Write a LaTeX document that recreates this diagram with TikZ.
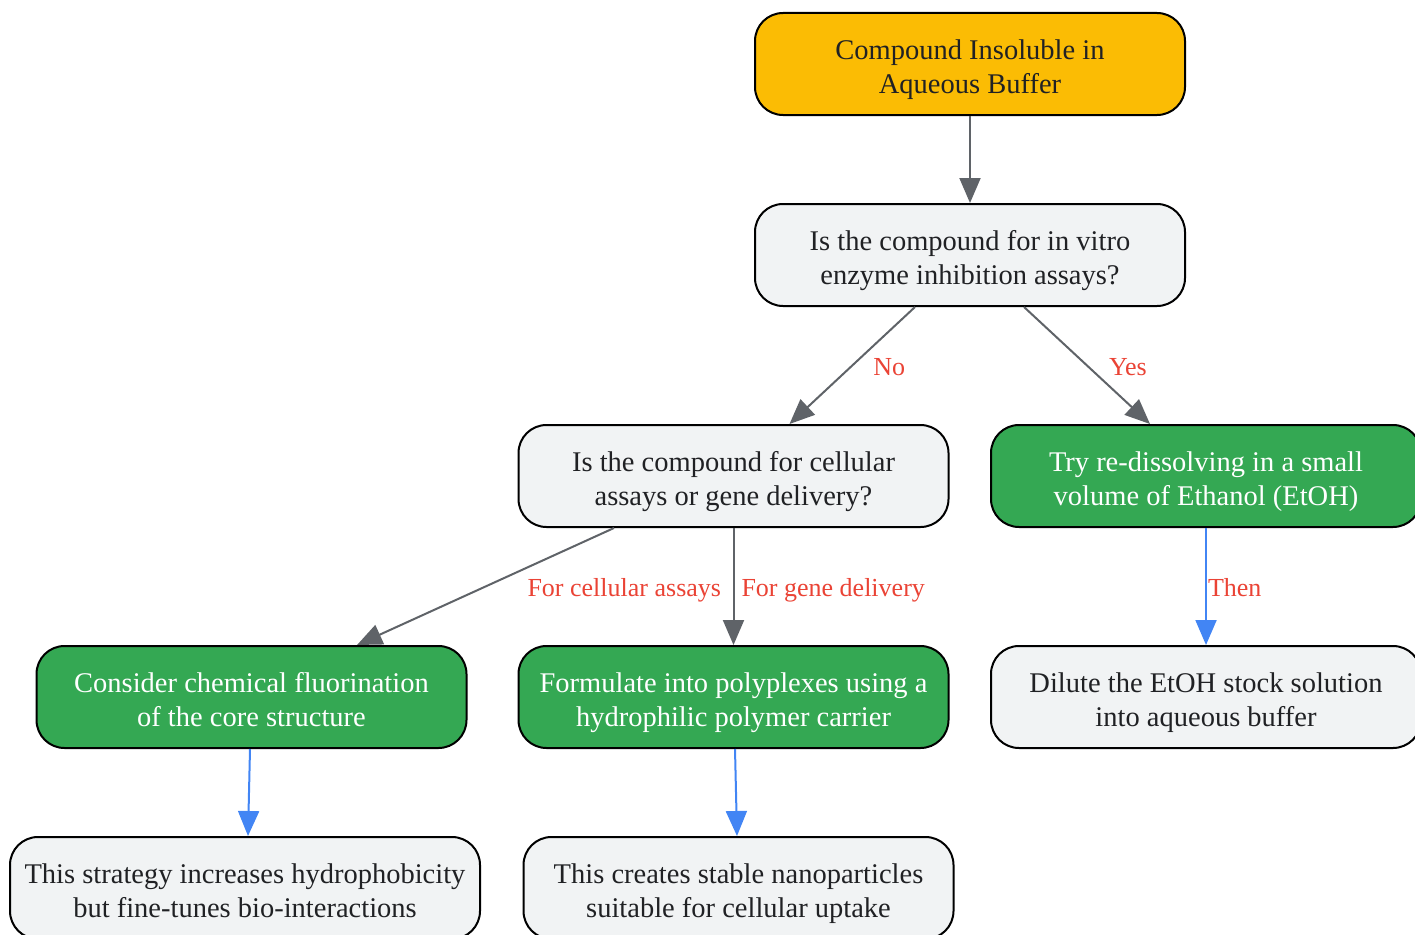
\documentclass[tikz,border=0pt]{standalone}
\usepackage{fontspec}
\setmainfont{Liberation Serif}
\usetikzlibrary{arrows.meta}
\definecolor{orangefill}{HTML}{FBBC04}
\definecolor{greenfill}{HTML}{34A853}
\definecolor{greyfill}{HTML}{F1F3F4}
\definecolor{edgegrey}{HTML}{5F6368}
\definecolor{edgeblue}{HTML}{4285F4}
\definecolor{labelred}{HTML}{EA4335}
\definecolor{textdark}{HTML}{202124}
\newcommand\topstrut{\rule{0pt}{32pt}}
\newcommand\botstrut{\rule[-8pt]{0pt}{8pt}}
\tikzset{
  box/.style={draw=black, line width=2pt, rounded corners=28pt, minimum width=430pt,
    minimum height=102pt, inner sep=0pt, align=center,
    font=\fontsize{28.5}{34}\selectfont},
  startbox/.style={box, fill=orangefill, text=textdark},
  qbox/.style={box, fill=greyfill, text=textdark},
  actbox/.style={box, fill=greenfill, text=white},
  flowgrey/.style={draw=edgegrey, line width=2pt, -{Triangle[length=25pt,width=21pt]}},
  flowblue/.style={draw=edgeblue, line width=2pt, -{Triangle[length=25pt,width=21pt]}},
  lbl/.style={text=labelred, font=\fontsize{26}{30}\selectfont, inner sep=0pt, anchor=west}
}
\begin{document}
\begin{tikzpicture}[x=1pt, y=-1pt]
\useasboundingbox (0,0) rectangle (1415,934);
\clip (0,0) rectangle (1415,934);
\node[startbox] (start) at (970,64) {\topstrut Compound Insoluble in\\Aqueous Buffer\botstrut};
\node[qbox] (q1) at (970,255) {\topstrut Is the compound for in vitro\\enzyme inhibition assays?\botstrut};
\node[qbox] (q2) at (733.5,476) {\topstrut Is the compound for cellular\\assays or gene delivery?\botstrut};
\node[actbox] (etoh) at (1206,476) {\topstrut Try re-dissolving in a small\\volume of Ethanol (EtOH)\botstrut};
\node[actbox] (fluor) at (251.5,697) {\topstrut Consider chemical fluorination\\of the core structure\botstrut};
\node[actbox] (poly) at (733.5,697) {\topstrut Formulate into polyplexes using a\\hydrophilic polymer carrier\botstrut};
\node[qbox] (dilute) at (1206,697) {\topstrut Dilute the EtOH stock solution\\into aqueous buffer\botstrut};
\node[qbox, minimum width=470pt] (strat) at (245,888) {\topstrut This strategy increases hydrophobicity\\but fine-tunes bio-interactions\botstrut};
\node[qbox] (nano) at (738.5,888) {\topstrut This creates stable nanoparticles\\suitable for cellular uptake\botstrut};

\draw[flowgrey] (start.south) -- (q1.north);
\draw[flowgrey] ([xshift=-55pt]q1.south) -- node[lbl, pos=0.5, xshift=20pt, yshift=-2pt] {No} ([xshift=56pt]q2.north);
\draw[flowgrey] ([xshift=54pt]q1.south) -- node[lbl, pos=0.5, xshift=21pt, yshift=-2pt] {Yes} ([xshift=-56pt]etoh.north);
\draw[flowgrey] ([xshift=-119.5pt]q2.south) -- node[lbl, pos=0.5, xshift=41pt, yshift=-4pt] {For cellular assays} ([xshift=105.5pt]fluor.north);
\draw[flowgrey] (q2.south) -- node[lbl, pos=0.5, xshift=7pt, yshift=-4pt] {For gene delivery} (poly.north);
\draw[flowblue] (etoh.south) -- node[lbl, pos=0.5, xshift=1pt, yshift=-1pt] {Then} (dilute.north);
\draw[flowblue] ([xshift=-1.5pt]fluor.south) -- ([xshift=3pt]strat.north);
\draw[flowblue] ([xshift=1.5pt]poly.south) -- ([xshift=-1.5pt]nano.north);
\end{tikzpicture}
\end{document}
